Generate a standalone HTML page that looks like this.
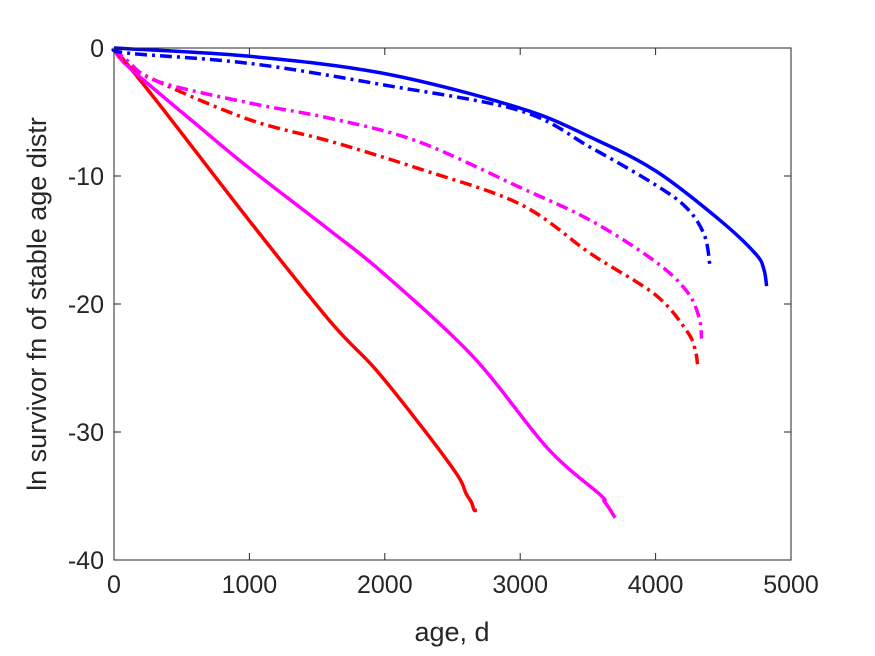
<!DOCTYPE html>
<html><head><meta charset="utf-8"><style>
html,body{margin:0;padding:0;background:#fff;}
svg{display:block;font-family:"Liberation Sans",sans-serif;}
</style></head><body>
<svg id="chart" width="875" height="656" viewBox="0 0 875 656">
<rect x="0" y="0" width="875" height="656" fill="#fff"/>
<g id="series"></g>
<rect x="114" y="48" width="677" height="512" fill="none" stroke="#262626" stroke-width="1"/>
<g id="xticks"></g>
<g id="yticks"></g>
<text x="452" y="641" text-anchor="middle" font-size="27" fill="#262626">age, d</text>
<text transform="translate(46,304) rotate(-90)" text-anchor="middle" font-size="27" fill="#262626">ln survivor fn of stable age distr</text>
</svg>
<script>
const xTicks=[0,1000,2000,3000,4000,5000];
const yTicks=[0,-10,-20,-30,-40];
const redSolidX=[0,320,1000,1600,1923,2244,2532,2600,2640,2660,2680];
const redSolidY=[0,-4.2,-13.5,-21.4,-25,-29.2,-33.3,-34.8,-35.5,-36.1,-36.1];
const magSolidX=[0,100,640,1000,1600,2000,2660,3200,3590,3620,3660,3700];
const magSolidY=[0,-1.4,-6.25,-9.4,-14.3,-17.7,-24.2,-31.25,-34.9,-35.4,-36,-36.7];
const redDashX=[0,100,320,1000,1600,2244,3000,3525,4000,4230,4290,4310];
const redDashY=[0,-1.2,-2.6,-5.6,-7.3,-9.4,-12.2,-16.1,-19.3,-22.1,-23.5,-24.7];
const magDashX=[0,100,320,1000,1600,2244,3000,3525,4000,4230,4320,4340];
const magDashY=[0,-1,-2.6,-4.3,-5.5,-7.3,-10.9,-13.5,-16.7,-19,-21,-22.7];
const blueDashX=[0,100,1000,2000,3000,3525,4000,4230,4360,4400];
const blueDashY=[0,-0.4,-1.2,-2.9,-4.9,-7.8,-10.7,-12.5,-14.6,-16.9];
const blueSolidX=[0,1000,2000,3000,3525,4000,4480,4740,4800,4820];
const blueSolidY=[0,-0.65,-2,-4.7,-7,-9.6,-13.5,-16.1,-17.3,-18.6];

const NS="http://www.w3.org/2000/svg";
const X0=114,X1=791,Y0=48,Y1=560;
function sx(v){return X0+(v-0)/5000*(X1-X0);}
function sy(v){return Y0+(0-v)/40*(Y1-Y0);}
const series=[
 {x:redSolidX,y:redSolidY,c:"#ff0000",d:"",n:"red-solid-line"},
 {x:magSolidX,y:magSolidY,c:"#ff00ff",d:"",n:"magenta-solid-line"},
 {x:redDashX,y:redDashY,c:"#ff0000",d:"12 5 3 5",n:"red-dashdot-line"},
 {x:magDashX,y:magDashY,c:"#ff00ff",d:"12 5 3 5",n:"magenta-dashdot-line"},
 {x:blueDashX,y:blueDashY,c:"#0000ff",d:"12 5 3 5",n:"blue-dashdot-line"},
 {x:blueSolidX,y:blueSolidY,c:"#0000ff",d:"",n:"blue-solid-line"}
];
function smoothPath(xs,ys){
 const P=xs.map((v,i)=>[sx(v),sy(ys[i])]);
 let d="M"+P[0][0].toFixed(1)+","+P[0][1].toFixed(1);
 for(let i=0;i<P.length-1;i++){
  const p0=P[Math.max(0,i-1)],p1=P[i],p2=P[i+1],p3=P[Math.min(P.length-1,i+2)];
  const c1=[p1[0]+(p2[0]-p0[0])/6,p1[1]+(p2[1]-p0[1])/6];
  const c2=[p2[0]-(p3[0]-p1[0])/6,p2[1]-(p3[1]-p1[1])/6];
  d+="C"+c1[0].toFixed(1)+","+c1[1].toFixed(1)+" "+c2[0].toFixed(1)+","+c2[1].toFixed(1)+" "+p2[0].toFixed(1)+","+p2[1].toFixed(1);
 }
 return d;
}
const g=document.getElementById("series");
series.forEach(s=>{
 const p=document.createElementNS(NS,"path");
 p.setAttribute("d",smoothPath(s.x,s.y));
 p.setAttribute("fill","none");
 p.setAttribute("stroke",s.c);
 p.setAttribute("stroke-width","3.5");
 p.setAttribute("stroke-linejoin","round");
 if(s.d)p.setAttribute("stroke-dasharray",s.d);
 
 
 g.appendChild(p);
});
const xg=document.getElementById("xticks");
xTicks.forEach(v=>{
 const x=sx(v);
 const l=document.createElementNS(NS,"path");
 l.setAttribute("d",`M${x},${Y1}V${Y1-7}M${x},${Y0}V${Y0+7}`);
 l.setAttribute("stroke","#262626");
 
 
 xg.appendChild(l);
 const t=document.createElementNS(NS,"text");
 t.setAttribute("x",x);t.setAttribute("y",Y1+33);
 t.setAttribute("text-anchor","middle");t.setAttribute("font-size","25");t.setAttribute("fill","#262626");
 t.textContent=v;
 
 
 xg.appendChild(t);
});
const yg=document.getElementById("yticks");
yTicks.forEach(v=>{
 const y=sy(v);
 const l=document.createElementNS(NS,"path");
 l.setAttribute("d",`M${X0},${y}H${X0+7}M${X1},${y}H${X1-7}`);
 l.setAttribute("stroke","#262626");
 
 
 yg.appendChild(l);
 const t=document.createElementNS(NS,"text");
 t.setAttribute("x",X0-10);t.setAttribute("y",y+9);
 t.setAttribute("text-anchor","end");t.setAttribute("font-size","25");t.setAttribute("fill","#262626");
 t.textContent=v;
 
 
 yg.appendChild(t);
});
</script>
</body></html>
